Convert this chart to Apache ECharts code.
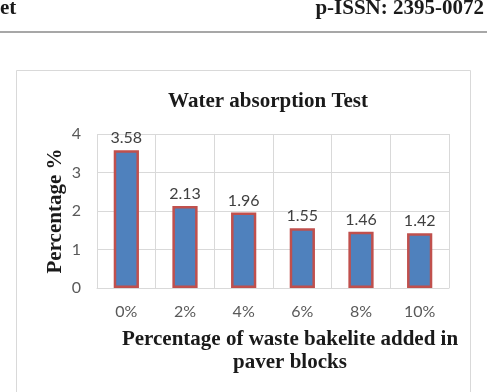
<!DOCTYPE html>
<html>
<head>
<meta charset="utf-8">
<script src="https://cdn.jsdelivr.net/npm/echarts@6/dist/echarts.min.js"></script>
<style>
html,body{margin:0;padding:0;background:#fff;}
#chart{width:487px;height:392px;}
</style>
</head>
<body>
<div id="chart"></div>
<script>
var categories = ['0%', '2%', '4%', '6%', '8%', '10%'];
var absorption = [3.58, 2.13, 1.96, 1.55, 1.46, 1.42];
var yTicks = [0, 1, 2, 3, 4];

var serif = '"Liberation Serif", serif';
var sans = 'Lato, "Liberation Sans", sans-serif';

var chart = echarts.init(document.getElementById('chart'));
var option = {
    animation: false,
    backgroundColor: '#fff',
    title: {
        text: 'Water absorption Test',
        left: 263, top: 86, textAlign: 'center',
        textStyle: {fontFamily: serif, fontWeight: 'bold', fontSize: 21, color: '#1a1a1a'}
    },
    graphic: [
        // page header cut from the paper
        {type: 'text', x: 0, y: 9, style: {text: 'et', font: 'bold 21px ' + serif, fill: '#1a1a1a', verticalAlign: 'middle'}},
        {type: 'text', x: 484, y: 9, style: {text: 'p-ISSN: 2395-0072', font: 'bold 21px ' + serif, fill: '#1a1a1a', align: 'right', verticalAlign: 'middle'}},
        {type: 'line', shape: {x1: 0, y1: 32, x2: 487, y2: 32}, style: {stroke: '#8a8a8a', lineWidth: 1.5}},
        // chart frame
        {type: 'rect', shape: {x: 16.5, y: 70.5, width: 454, height: 340}, style: {fill: 'none', stroke: '#d9d9d9', lineWidth: 1}, z: -1},
        // x axis title
        {type: 'text', x: 290, y: 351, style: {text: 'Percentage of waste bakelite added in\npaver blocks', font: 'bold 21px ' + serif, fill: '#1a1a1a', align: 'center', verticalAlign: 'middle', lineHeight: 23}}
    ],
    grid: {left: 97, right: 38, top: 134, bottom: 104},
    xAxis: {
        type: 'category',
        data: categories,
        axisLine: {lineStyle: {color: '#d9d9d9'}},
        axisTick: {show: false},
        splitLine: {show: true, lineStyle: {color: '#d9d9d9'}},
        axisLabel: {color: '#595959', fontSize: 16, fontFamily: sans, margin: 16}
    },
    yAxis: {
        type: 'value',
        min: 0, max: 4, interval: 1,
        name: 'Percentage %',
        nameLocation: 'middle',
        nameGap: 31,
        nameMoveOverlap: false,
        nameTextStyle: {fontFamily: serif, fontWeight: 'bold', fontSize: 21, color: '#1a1a1a'},
        axisLine: {show: false},
        axisTick: {show: false},
        splitLine: {lineStyle: {color: '#d9d9d9'}},
        axisLabel: {color: '#595959', fontSize: 16, fontFamily: sans, margin: 16,
            formatter: function (v) { return yTicks.indexOf(v) >= 0 ? String(v) : ''; }}
    },
    series: [{
        type: 'bar',
        data: absorption,
        barWidth: '43%',
        itemStyle: {color: '#4f81bd', borderColor: '#c0504d', borderWidth: 2.5},
        label: {show: true, position: 'top', distance: 4, color: '#404040', fontSize: 16, fontFamily: sans,
            formatter: function (p) { return p.value.toFixed(2); }}
    }]
};
chart.setOption(option);
</script>
</body>
</html>
